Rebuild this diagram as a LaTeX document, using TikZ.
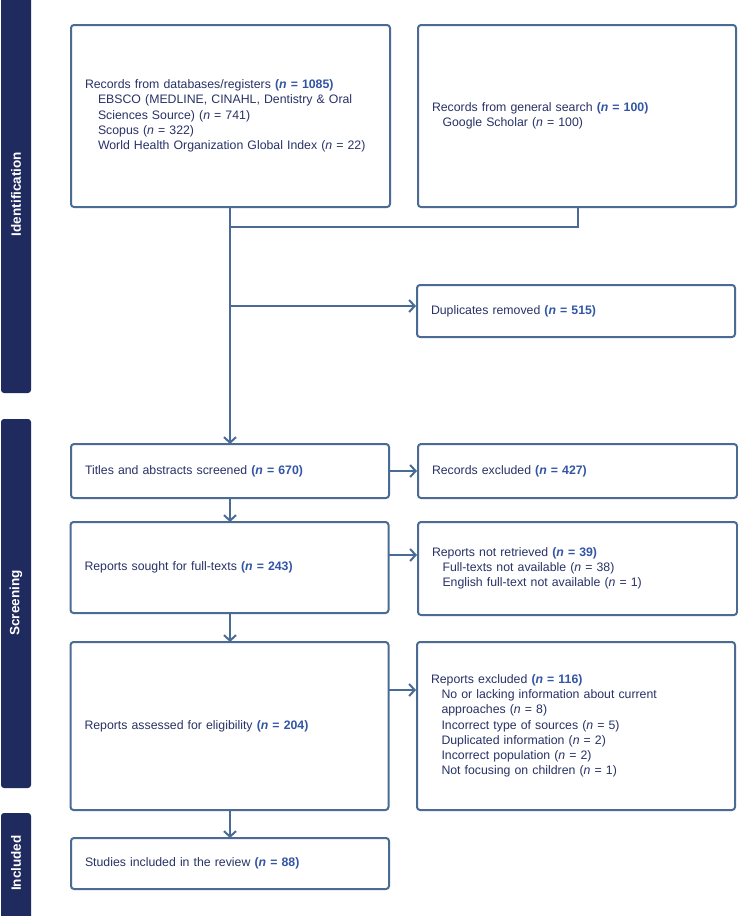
\documentclass[tikz,border=0pt]{standalone}
\usepackage{fontspec}
\setmainfont{Liberation Sans}
\usetikzlibrary{arrows.meta}
\definecolor{barc}{HTML}{1F2A5E}
\definecolor{linec}{HTML}{4A6B94}
\definecolor{txtc}{HTML}{283266}
\definecolor{numc}{HTML}{3355A5}
\newcommand{\nb}[1]{\textbf{\color{numc}(\textit{n} = #1)}}
\newcommand{\nn}[1]{(\textit{n} = #1)}
\newcommand{\ind}{\hspace*{13pt}}
\newcommand{\indr}{\hspace*{10.5pt}}
\tikzset{
  box/.style={draw=linec, line width=2pt, rounded corners=3pt, fill=white,
    text=txtc, align=left, inner xsep=14pt, inner ysep=0pt,
    font=\fontsize{12.3}{15.2}\selectfont},
  conn/.style={draw=linec, line width=2pt},
  arr/.style={conn, -{Straight Barb[length=5.5pt,width=12pt,line width=2pt]}},
  bar/.style={fill=barc, rounded corners=3pt},
  barlabel/.style={text=white, font=\bfseries\fontsize{13.5}{15}\selectfont, rotate=90}
}
\begin{document}
\begin{tikzpicture}[x=1pt,y=-1pt]
\useasboundingbox (0,0) rectangle (738,916);
% side bars
\fill[barc] (1,-5) [rounded corners=3pt] -- (1,393) -- (31,393) [sharp corners] -- (31,-5) -- cycle;
\fill[bar] (1,419) rectangle (31,788);
\fill[barc] (1,925) [rounded corners=3pt] -- (1,813) -- (31,813) [sharp corners] -- (31,925) -- cycle;
\node[barlabel] (lid) at (16,194) {Identification};
\node[barlabel] (lsc) at (16,603) {Screening};
\node[barlabel] (lin) at (16,863) {Included};
% boxes
\node[box, minimum width=319pt, minimum height=182pt, text width=291pt] (db) at (230.5,116)
 {Records from databases/registers \nb{1085}\\
  \ind EBSCO (MEDLINE, CINAHL, Dentistry \& Oral\\
  \ind Sciences Source) \nn{741}\\
  \ind Scopus \nn{322}\\
  \ind World Health Organization Global Index \nn{22}};
\node[box, minimum width=318pt, minimum height=182pt, text width=290pt] (gs) at (577,116)
 {Records from general search \nb{100}\\
  \indr Google Scholar \nn{100}};
\node[box, minimum width=318pt, minimum height=52pt, text width=290pt] (dup) at (576,311)
 {Duplicates removed \nb{515}};
\node[box, minimum width=318pt, minimum height=54pt, text width=290pt] (tas) at (230,471)
 {Titles and abstracts screened \nb{670}};
\node[box, minimum width=319pt, minimum height=54pt, text width=291pt] (rex) at (577.5,471)
 {Records excluded \nb{427}};
\node[box, minimum width=318pt, minimum height=91pt, text width=290pt] (sou) at (229.5,567.5)
 {Reports sought for full-texts \nb{243}};
\node[box, minimum width=319pt, minimum height=93pt, text width=291pt] (nr) at (577.5,568.5)
 {Reports not retrieved \nb{39}\\
  \indr Full-texts not available \nn{38}\\
  \indr English full-text not available \nn{1}};
\node[box, minimum width=318pt, minimum height=168pt, text width=290pt] (eli) at (229.5,726)
 {Reports assessed for eligibility \nb{204}};
\node[box, minimum width=318pt, minimum height=168pt, text width=290pt] (rep) at (576,726)
 {Reports excluded \nb{116}\\
  \indr No or lacking information about current\\
  \indr approaches \nn{8}\\
  \indr Incorrect type of sources \nn{5}\\
  \indr Duplicated information \nn{2}\\
  \indr Incorrect population \nn{2}\\
  \indr Not focusing on children \nn{1}};
\node[box, minimum width=318pt, minimum height=51pt, text width=290pt] (inc) at (230,863.5)
 {Studies included in the review \nb{88}};
% connectors
\coordinate (j1) at (230,227);
\coordinate (j2) at (230,306);
\coordinate (g1) at (578,207);
\coordinate (t1) at (230,444);
\draw[conn] (g1) -- (g1 |- j1) -- (j1);
\draw[arr] (230,207) -- (t1);
\draw[arr] (j2) -- (dup.west |- j2);
\draw[arr] (tas.east) -- (rex.west |- tas.east);
\coordinate (s1) at (388.5,555);
\draw[arr] (s1) -- (nr.west |- s1);
\coordinate (e1) at (388.5,690);
\draw[arr] (e1) -- (rep.west |- e1);
\draw[arr] (230,498) -- (230,522);
\draw[arr] (230,613) -- (230,642);
\draw[arr] (230,810) -- (230,838);
\end{tikzpicture}
\end{document}
